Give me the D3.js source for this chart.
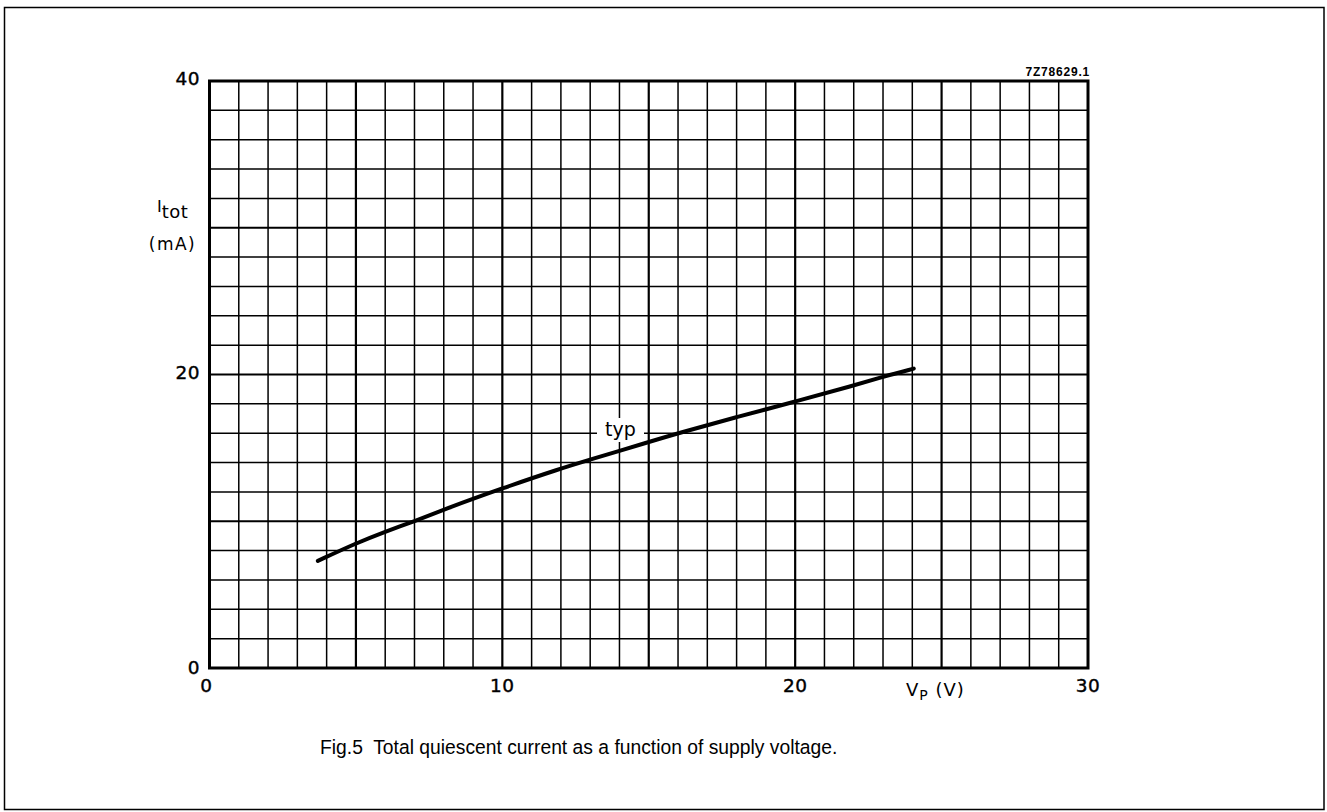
<!DOCTYPE html>
<html><head><meta charset="utf-8">
<script src="https://cdn.jsdelivr.net/npm/d3@7"></script>
<style>body{margin:0;background:#fff}svg{display:block}</style>
</head><body>
<svg id="c" width="1327" height="812"></svg>
<script>
const voltage = [3.7, 5, 6, 7, 8, 10, 12, 13, 15, 16, 18, 20, 22, 23, 24.05];
const current = [7.3, 8.5, 9.3, 10.0, 10.8, 12.25, 13.6, 14.2, 15.4, 16.0, 17.1, 18.15, 19.25, 19.85, 20.4];
const xTicks = [0, 10, 20, 30];
const yTicks = [0, 20, 40];
const figId = "7Z78629.1";
const caption = "Fig.5  Total quiescent current as a function of supply voltage.";
const curveLabel = "typ";

const svg = d3.select("#c");
const L = 209.5, R = 1088, T = 81, B = 668;
const x = d3.scaleLinear().domain([0, 30]).range([L, R]);
const y = d3.scaleLinear().domain([0, 40]).range([B, T]);

svg.append("rect").attr("x", 4.5).attr("y", 7.5).attr("width", 1319.5).attr("height", 802)
  .attr("fill", "none").attr("stroke", "#000").attr("stroke-width", 1.5);

const g = svg.append("g");
d3.range(1, 30).forEach(v => {
  g.append("line").attr("x1", x(v)).attr("x2", x(v)).attr("y1", T).attr("y2", B)
    .attr("stroke", "#000").attr("stroke-width", v % 5 === 0 ? 2.2 : 1.5);
});
d3.range(2, 40, 2).forEach(v => {
  g.append("line").attr("x1", L).attr("x2", R).attr("y1", y(v)).attr("y2", y(v))
    .attr("stroke", "#000").attr("stroke-width", v % 10 === 0 ? 2.2 : 1.5);
});
g.append("rect").attr("x", L).attr("y", T).attr("width", R - L).attr("height", B - T)
  .attr("fill", "none").attr("stroke", "#000").attr("stroke-width", 3);

const df = "DejaVu Sans, Verdana, sans-serif";
const lbl = svg.append("g");
lbl.append("rect").attr("x", 597).attr("y", 418).attr("width", 47).attr("height", 24).attr("fill", "#fff");
lbl.append("text").attr("x", 620.5).attr("y", 436).attr("text-anchor", "middle")
  .attr("font-family", df).attr("font-size", 19).text(curveLabel);

const line = d3.line().x((d, i) => x(voltage[i])).y((d, i) => y(current[i])).curve(d3.curveBasis);
svg.append("path").attr("d", line(voltage)).attr("fill", "none").attr("stroke", "#000")
  .attr("stroke-width", 4).attr("stroke-linecap", "round");

svg.selectAll(".xt").data(xTicks).enter().append("text")
  .attr("x", d => x(d) - (d === 0 ? 3 : 0)).attr("y", 692).attr("text-anchor", "middle")
  .attr("font-family", df).attr("font-size", 18.5).attr("letter-spacing", 0.5)
  .attr("stroke", "#000").attr("stroke-width", 0.4).text(d => d);
svg.selectAll(".yt").data(yTicks).enter().append("text")
  .attr("x", 200).attr("y", d => y(d) + 6 - (d === 0 ? 0 : 2)).attr("text-anchor", "end")
  .attr("font-family", df).attr("font-size", 18.5).attr("letter-spacing", 0.5)
  .attr("stroke", "#000").attr("stroke-width", 0.4).text(d => d);

const xl = svg.append("text").attr("x", 906).attr("y", 696).attr("font-family", df).attr("font-size", 18).attr("letter-spacing", 1);
xl.append("tspan").text("V");
xl.append("tspan").attr("dy", 4).attr("font-size", 14).text("P");
xl.append("tspan").attr("dy", -4).text(" (V)");

const yl = svg.append("text").attr("x", 157).attr("y", 212).attr("font-family", df).attr("font-size", 16);
yl.append("tspan").text("I");
yl.append("tspan").attr("dy", 6).attr("font-size", 18).attr("letter-spacing", 0.5).text("tot");
svg.append("text").attr("x", 172.5).attr("y", 250).attr("text-anchor", "middle").attr("font-family", df)
  .attr("font-size", 17).attr("letter-spacing", 1.5).text("(mA)");

svg.append("text").attr("x", 1090).attr("y", 76).attr("text-anchor", "end").attr("font-family", "Liberation Sans, Arial, sans-serif")
  .attr("font-size", 12).attr("font-weight", "bold").attr("letter-spacing", 0.8).text(figId);

svg.append("text").attr("x", 320).attr("y", 754).attr("font-family", "Liberation Sans, Arial, sans-serif").attr("font-size", 19.3)
  .attr("xml:space", "preserve").style("white-space", "pre").text(caption);
</script>
</body></html>
